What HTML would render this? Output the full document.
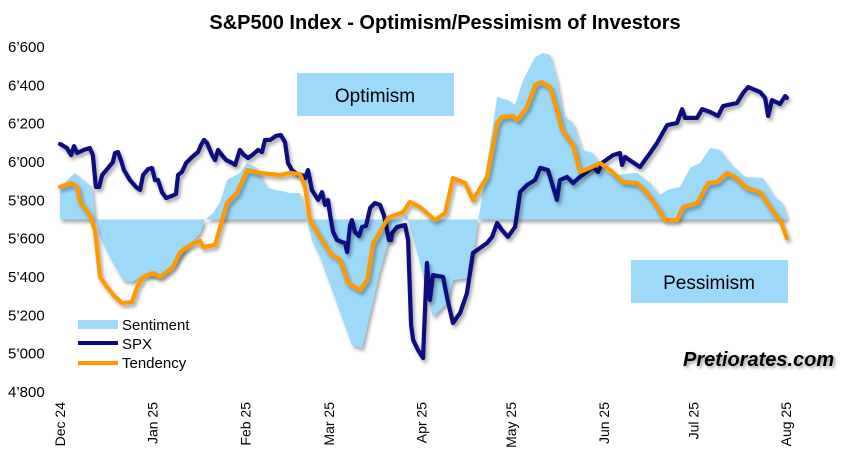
<!DOCTYPE html>
<html><head><meta charset="utf-8"><style>
body{margin:0;background:#fff;width:852px;height:460px;overflow:hidden}
svg{font-family:"Liberation Sans",sans-serif}
</style></head><body>
<svg id="chart" width="852" height="460" xmlns="http://www.w3.org/2000/svg">
<defs>
<filter id="sh" x="-10%" y="-10%" width="120%" height="130%"><feDropShadow dx="2" dy="3" stdDeviation="1.8" flood-color="#000" flood-opacity="0.35"/></filter>
<filter id="tsh"><feDropShadow dx="2" dy="2" stdDeviation="1.5" flood-color="#000" flood-opacity="0.4"/></filter>
</defs>
<text x="445" y="29" text-anchor="middle" font-size="20" font-weight="bold">S&amp;P500 Index - Optimism/Pessimism of Investors</text>
<g id="yaxis"></g>
<g id="xaxis"></g>
<rect x="297" y="73" width="157" height="43" fill="#9dd9f8"/>
<text x="375" y="102" text-anchor="middle" font-size="19">Optimism</text>
<rect x="631" y="260" width="157" height="43" fill="#9dd9f8"/>
<text x="709" y="289" text-anchor="middle" font-size="19">Pessimism</text>
<g id="plot"></g>
<g>
<rect x="78" y="320" width="40" height="9" fill="#9dd9f8"/>
<text x="122" y="330" font-size="15">Sentiment</text>
<line x1="78" y1="343" x2="118" y2="343" stroke="#0b0b80" stroke-width="4"/>
<text x="122" y="349" font-size="15">SPX</text>
<line x1="78" y1="363" x2="118" y2="363" stroke="#ff9900" stroke-width="4"/>
<text x="122" y="368" font-size="15">Tendency</text>
</g>
<text x="683" y="366" font-size="20" font-weight="bold" font-style="italic" filter="url(#tsh)">Pretiorates.com</text>
</svg>
<script>
const yTicks=[6600,6400,6200,6000,5800,5600,5400,5200,5000,4800];
const yTickLabels=["6’600","6’400","6’200","6’000","5’800","5’600","5’400","5’200","5’000","4’800"];
const monthDays=[0,31,62,90,121,151,182,212,243];
const monthLabels=["Dec 24","Jan 25","Feb 25","Mar 25","Apr 25","May 25","Jun 25","Jul 25","Aug 25"];
const baseline=5700;
const spxDays=[0,2.3,3.7,4.7,5.7,8,10,11,12,13.1,14.1,16.1,17.7,18.4,19.4,20.4,21.4,23.4,25.4,26.8,27.8,29.5,30.8,31.8,32.8,34.1,35.5,37.5,38.8,39.5,40.8,42.2,44.2,46.2,47.2,48.2,49.2,50.9,51.9,52.9,54.2,55.6,57.6,58.6,60.2,61.6,62.9,64.3,66.3,67.6,68.6,70.3,72.3,73.9,75.3,76.3,77.6,79.3,81,82,83,84.3,86.4,87.7,88.7,89.7,90.4,91.4,92.7,94.4,95.4,96.1,97.1,97.7,98.7,100.1,101.1,102.4,103.8,105.4,107.1,108.4,110.1,110.8,111.1,112.8,115.5,116.5,117.5,118.2,119.8,121.5,122.8,123.8,124.8,128.2,129.5,131.5,133.9,136.2,138.2,142.9,144.6,146.3,147.9,149.9,152.3,154,156.3,159,160.7,163.3,165,166.3,167.3,169.7,171.7,174,178.4,180.1,181.4,185.1,187.4,188.1,189.1,194.1,197.5,199.8,203.2,206.5,208.2,209.2,213.2,214.9,217.6,220.2,221.9,226.6,228.6,230.3,234.3,236,237,238.3,241,242.7,243.3];
const spxValues=[6094,6073,6036,6083,6047,6063,6073,6036,5870,5870,5932,5969,6000,6047,6052,6010,5958,5906,5870,5854,5932,5963,5969,5906,5906,5843,5812,5823,5833,5932,5948,5995,6026,6052,6089,6115,6099,6036,6010,6063,6036,6010,5995,5984,6063,6036,6021,6036,6063,6052,6115,6115,6136,6141,6104,5995,5958,5937,5932,5916,5958,5854,5802,5843,5776,5802,5723,5635,5593,5582,5577,5530,5671,5697,5635,5614,5661,5666,5760,5786,5776,5723,5593,5593,5629,5661,5671,5593,5149,5071,5019,4977,5473,5280,5410,5400,5296,5160,5212,5316,5525,5577,5609,5682,5645,5609,5661,5843,5880,5906,5969,5958,5870,5802,5906,5922,5890,5922,5974,5948,5995,6036,6047,5984,6026,5974,6047,6099,6193,6203,6276,6230,6230,6276,6261,6240,6292,6308,6360,6391,6365,6334,6240,6323,6303,6344,6334];
const tendDays=[0,4,5.7,6.7,10,11.7,13.4,15.7,18.4,20.8,24.1,25.8,27.8,31.1,33.5,37.8,40.2,43.5,46.9,47.9,51.9,53.6,55.9,59.2,62.6,66.9,73.6,77,80.3,82,83.7,87,90.4,93.7,96.4,100.4,102.8,104.8,109.8,114.8,117.1,120.5,125.5,128.9,131.5,135.6,138.2,142.9,146.3,147.9,151.6,153,156.3,159,161.3,164,166.3,168,171.7,174,177.4,180.7,184.1,188.4,193.1,196.5,199.8,202.5,206.5,208.5,213.2,216.9,219.9,223.2,225.9,229.9,234.3,238.3,241,243.3];
const tendValues=[5870,5890,5870,5791,5723,5645,5400,5348,5296,5264,5269,5348,5400,5421,5400,5452,5530,5567,5588,5556,5567,5661,5786,5838,5958,5943,5932,5943,5937,5870,5697,5609,5525,5489,5369,5332,5384,5577,5708,5739,5791,5765,5697,5734,5916,5890,5802,5922,6203,6235,6240,6219,6287,6402,6417,6391,6271,6167,6089,5948,5969,5995,5958,5896,5890,5838,5765,5697,5697,5765,5786,5890,5896,5943,5922,5864,5843,5749,5697,5603];
const sentDays=[0,5,7.7,10.7,11.7,13.4,16.7,21.1,24.1,27.8,33.5,37.8,42.5,46.9,48.5,51.2,53.6,55.9,60.2,62.6,65.9,69.3,77,80.3,82.7,84.3,87,91.4,94.7,97.7,101.1,103.8,107.1,109.8,112.8,116.1,120.5,124.8,129.5,131.5,136.2,138.2,139.9,140.6,146.3,149.9,152.3,155,159,161.7,164,166.3,168.4,171.7,174.7,178.4,181.7,185.1,193.1,197.5,200.8,203.2,207.5,210.9,214.2,217.6,220.9,224.2,229.3,235.3,238.6,241.7,243.3];
const sentValues=[5870,5943,5906,5870,5713,5609,5504,5384,5374,5410,5400,5452,5556,5629,5697,5734,5791,5906,5943,5995,5969,5864,5838,5838,5697,5593,5504,5316,5175,5045,5029,5212,5436,5577,5661,5723,5473,5191,5264,5384,5395,5504,5697,5749,6339,6323,6297,6428,6548,6569,6558,6428,6245,6203,6063,6047,5958,5932,5943,5890,5828,5854,5870,5969,5995,6073,6063,5995,5922,5916,5828,5786,5713];

const NS="http://www.w3.org/2000/svg";
const X=d=>60+d*2.988;
const Y=v=>47+(6600-v)/200*38.33;
function mk(tag,attrs,parent){const e=document.createElementNS(NS,tag);for(const k in attrs)e.setAttribute(k,attrs[k]);parent.appendChild(e);return e;}
const ya=document.getElementById('yaxis'),xa=document.getElementById('xaxis'),plot=document.getElementById('plot');
yTicks.forEach((t,i)=>{const e=mk('text',{x:8,y:Y(t)+5,'font-size':15},ya);e.textContent=yTickLabels[i];

});
monthDays.forEach((d,i)=>{const x=X(d)+5;const e=mk('text',{x:x,y:402,'font-size':14,'text-anchor':'end',transform:`rotate(-90 ${x} 402)`},xa);e.textContent=monthLabels[i];

});
let p=`M${X(sentDays[0])},${Y(baseline)}`;
const n=Math.min(sentDays.length,sentValues.length);
for(let i=0;i<n;i++)p+=`L${X(sentDays[i])},${Y(sentValues[i])}`;
p+=`L${X(sentDays[n-1])},${Y(baseline)}Z`;
const area=mk('path',{d:p,fill:'#9dd9f8',filter:'url(#sh)'},plot);


function line(days,vals,color,name){const m=Math.min(days.length,vals.length);let s='';for(let i=0;i<m;i++)s+=(i?'L':'M')+X(days[i])+','+Y(vals[i]);
const e=mk('path',{d:s,fill:'none',stroke:color,'stroke-width':4.2,'stroke-linejoin':'round','stroke-linecap':'round',filter:'url(#sh)'},plot);

}
line(spxDays,spxValues,'#0b0b80','spx-line');
line(tendDays,tendValues,'#ff9900','tendency-line');
</script>
</body></html>
